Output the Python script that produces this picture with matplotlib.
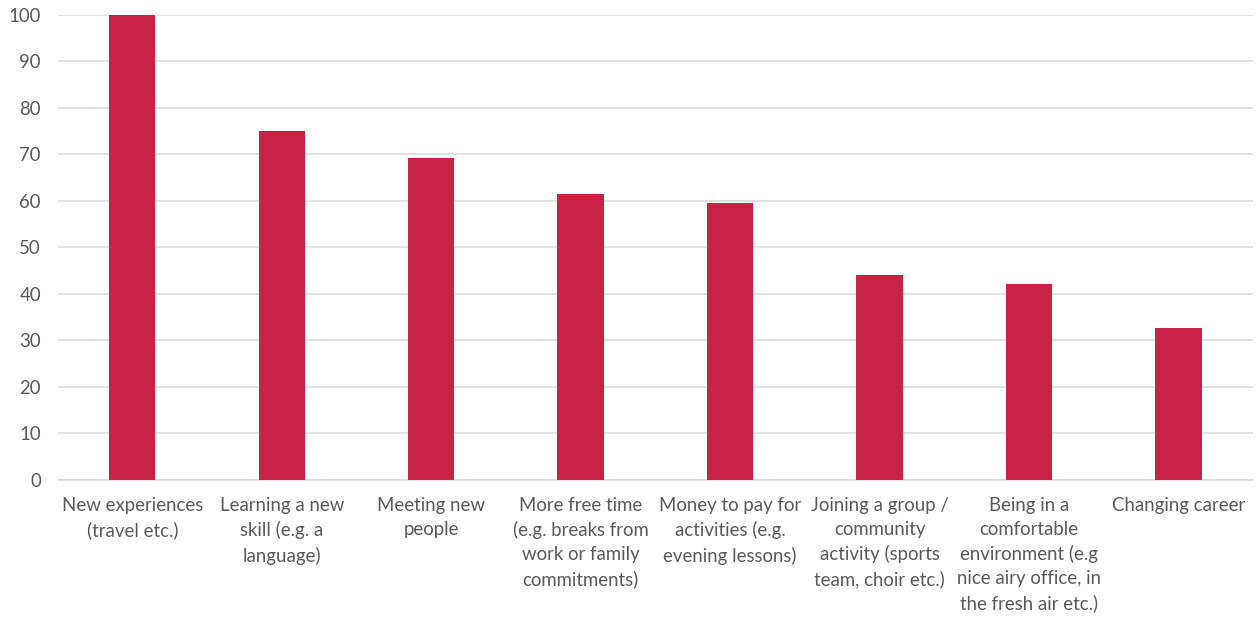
import matplotlib
matplotlib.use("Agg")
import matplotlib.pyplot as plt

categories = [
    "New experiences\n(travel etc.)",
    "Learning a new\nskill (e.g. a\nlanguage)",
    "Meeting new\npeople",
    "More free time\n(e.g. breaks from\nwork or family\ncommitments)",
    "Money to pay for\nactivities (e.g.\nevening lessons)",
    "Joining a group /\ncommunity\nactivity (sports\nteam, choir etc.)",
    "Being in a\ncomfortable\nenvironment (e.g\nnice airy office, in\nthe fresh air etc.)",
    "Changing career",
]
values = [100, 75, 69.2, 61.4, 59.6, 44.1, 42.2, 32.6]
yticks = list(range(0, 101, 10))

BAR_COLOR = "#C82345"
TEXT_COLOR = "#595959"
GRID_COLOR = "#D9D9D9"

plt.rcParams["font.family"] = ["Lato", "DejaVu Sans"]

fig = plt.figure(figsize=(12.56, 6.19), dpi=100)
ax = fig.add_axes([0.0458, 0.2246, 0.952, 0.7512])

x = range(len(categories))
ax.bar(x, values, width=0.31, color=BAR_COLOR, zorder=3)

ax.set_xlim(-0.5, len(categories) - 0.5)
ax.set_ylim(0, 100)
ax.set_yticks(yticks)
ax.set_xticks(list(x))
ax.set_xticklabels(categories, fontsize=13.4, color=TEXT_COLOR, linespacing=1.5,
                   va="top", ha="center")
ax.tick_params(axis="y", labelsize=13.4, labelcolor=TEXT_COLOR, length=0, pad=12)
ax.tick_params(axis="x", length=0, pad=12)

ax.yaxis.grid(True, color=GRID_COLOR, linewidth=1.1, zorder=0)
ax.set_axisbelow(True)
for side in ["top", "right", "left"]:
    ax.spines[side].set_visible(False)
ax.spines["bottom"].set_color(GRID_COLOR)
ax.spines["bottom"].set_linewidth(1.1)

fig.savefig("out.png", dpi=100)
